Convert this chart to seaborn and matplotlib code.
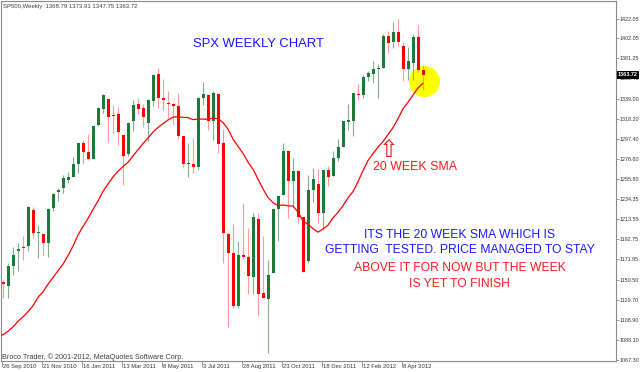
import numpy as np
import pandas as pd
import matplotlib
matplotlib.use("Agg")
import matplotlib.pyplot as plt
import matplotlib.transforms as mtransforms
from matplotlib.patches import Ellipse
import seaborn as sns

# ---------------- data (SP500 weekly) ----------------
symbol = "SP500,Weekly"
# 20 closes before the first visible week (needed for the 20-week SMA)
prior_close = [1135.68, 1087.69, 1089.41, 1064.88, 1091.60, 1117.51, 1076.76,
               1022.58, 1077.96, 1064.88, 1102.66, 1101.60, 1121.64, 1079.25,
               1071.69, 1064.59, 1104.51, 1109.55, 1125.59, 1148.67]

open_ = [1148.6, 1144.0, 1165.3, 1180.5, 1184.7, 1185.7, 1223.2, 1199.0, 1198.1, 1189.4,
         1225.0, 1242.5, 1245.8, 1254.7, 1257.6, 1270.8, 1293.2, 1283.3, 1276.5, 1311.9,
         1328.7, 1338.9, 1321.6, 1322.7, 1301.2, 1281.7, 1315.5, 1333.6, 1329.0, 1313.4,
         1337.1, 1365.2, 1340.2, 1334.8, 1333.1, 1331.1, 1300.3, 1271.3, 1271.5, 1268.4,
         1339.6, 1343.3, 1315.9, 1344.3, 1292.6, 1198.5, 1178.9, 1123.6, 1177.0, 1174.0,
         1153.5, 1214.0, 1136.9, 1131.2, 1158.2, 1224.5, 1238.7, 1285.0, 1253.2, 1263.9,
         1215.6, 1170.0, 1244.3, 1250.0, 1219.7, 1265.0, 1258.9, 1277.8, 1289.1, 1315.3,
         1316.2, 1344.3, 1343.1, 1361.2, 1365.2, 1369.6, 1370.8, 1404.2, 1397.7, 1408.5,
         1394.0, 1370.3, 1376.0, 1403.3, 1368.79]
high = [1150.0, 1167.7, 1184.4, 1189.4, 1196.1, 1227.1, 1226.8, 1207.4, 1198.7, 1225.6,
        1241.0, 1246.7, 1259.4, 1262.6, 1278.2, 1293.2, 1296.1, 1302.7, 1311.0, 1330.0,
        1344.1, 1338.9, 1332.3, 1330.9, 1301.2, 1314.8, 1337.9, 1339.5, 1333.2, 1339.0,
        1364.6, 1370.6, 1359.4, 1346.8, 1334.6, 1345.2, 1300.6, 1292.5, 1298.6, 1341.0,
        1356.5, 1344.0, 1347.0, 1344.3, 1307.4, 1199.4, 1208.5, 1190.7, 1230.7, 1204.4,
        1220.6, 1220.4, 1195.9, 1171.4, 1224.6, 1238.3, 1292.7, 1285.0, 1277.6, 1265.4,
        1215.6, 1260.1, 1267.1, 1266.0, 1265.4, 1269.4, 1285.0, 1296.8, 1315.5, 1333.5,
        1345.3, 1354.3, 1363.4, 1368.0, 1378.0, 1374.7, 1406.0, 1409.0, 1419.2, 1422.4,
        1398.0, 1392.8, 1406.6, 1415.3, 1373.91]
low = [1131.9, 1131.9, 1155.7, 1159.7, 1171.7, 1181.0, 1194.1, 1173.0, 1176.9, 1174.0,
       1222.0, 1232.8, 1241.5, 1251.5, 1257.6, 1262.2, 1271.3, 1275.1, 1276.3, 1311.0,
       1323.7, 1294.3, 1302.0, 1291.0, 1249.0, 1279.2, 1305.0, 1322.9, 1309.7, 1294.7,
       1331.0, 1329.2, 1327.0, 1318.5, 1311.8, 1297.0, 1268.0, 1258.1, 1262.0, 1265.0,
       1333.0, 1307.0, 1295.9, 1282.9, 1168.1, 1101.5, 1121.1, 1121.1, 1172.1, 1136.0,
       1136.2, 1114.2, 1131.4, 1074.8, 1158.2, 1191.5, 1238.7, 1215.4, 1226.6, 1208.5,
       1158.7, 1168.0, 1231.5, 1209.5, 1202.4, 1248.6, 1258.9, 1274.3, 1289.1, 1306.1,
       1300.5, 1337.5, 1340.0, 1357.7, 1354.9, 1340.0, 1370.8, 1386.9, 1391.6, 1394.2,
       1357.4, 1358.8, 1358.0, 1367.0, 1347.75]
close = [1146.2, 1165.2, 1176.2, 1183.1, 1183.3, 1225.9, 1199.2, 1199.7, 1189.4, 1224.7,
         1240.4, 1243.9, 1256.8, 1257.6, 1271.5, 1293.2, 1283.4, 1276.3, 1310.9, 1329.2,
         1343.0, 1319.9, 1321.2, 1304.3, 1279.2, 1313.8, 1332.4, 1328.2, 1319.7, 1337.4,
         1363.6, 1340.2, 1337.8, 1333.3, 1331.1, 1300.2, 1271.0, 1271.5, 1268.5, 1339.7,
         1343.8, 1316.1, 1345.0, 1292.3, 1199.4, 1178.8, 1123.5, 1176.8, 1174.0, 1154.2,
         1216.0, 1136.4, 1131.4, 1155.5, 1224.6, 1238.3, 1285.1, 1253.2, 1263.9, 1215.7,
         1158.7, 1244.3, 1255.2, 1219.7, 1265.3, 1257.6, 1277.8, 1289.1, 1315.4, 1316.3,
         1344.9, 1342.6, 1361.2, 1365.7, 1369.6, 1370.9, 1404.2, 1397.1, 1408.5, 1398.1,
         1370.3, 1378.5, 1403.4, 1369.1, 1363.72]

sma_period = 20
x_tick_labels = ["26 Sep 2010", "21 Nov 2010", "16 Jan 2011", "13 Mar 2011",
                 "8 May 2011", "3 Jul 2011", "28 Aug 2011", "23 Oct 2011",
                 "18 Dec 2011", "12 Feb 2012", "8 Apr 2012"]
y_tick_values = [1422.05, 1402.05, 1381.25, 1360.45, 1339.00, 1318.20, 1297.40,
                 1276.60, 1255.80, 1234.35, 1213.55, 1192.75, 1171.95, 1150.50,
                 1129.70, 1108.90, 1088.10, 1067.30]

title_text = "SPX WEEKLY CHART"
sma_text = "20 WEEK SMA"
note_lines = [("ITS THE 20 WEEK SMA WHICH IS", "#1a1aff"),
              ("GETTING  TESTED. PRICE MANAGED TO STAY", "#1a1aff"),
              ("ABOVE IT FOR NOW BUT THE WEEK", "#ff1a1a"),
              ("IS YET TO FINISH", "#ff1a1a")]
copyright_text = "Broco Trader, \u00a9 2001-2012, MetaQuotes Software Corp."

# ---------------- derived tables ----------------
n = len(close)
weeks = pd.date_range("2010-09-26", periods=n, freq="7D")
df = pd.DataFrame({"k": np.arange(n), "open": open_, "high": high,
                   "low": low, "close": close})
df["up"] = df["close"] >= df["open"]

all_close = pd.Series(prior_close + close)
sma = all_close.rolling(sma_period).mean()
sma_df = pd.DataFrame({"k": np.arange(-1, n),
                       "sma": sma.iloc[sma_period - 1:].to_numpy()})

tick_pos = [weeks.get_loc(pd.to_datetime(t)) for t in x_tick_labels]

# ---------------- figure ----------------
sns.set_theme(style="white")
plt.rcParams["font.family"] = ["Liberation Sans", "DejaVu Sans"]

W, H = 640, 372
fig = plt.figure(figsize=(W / 100, H / 100), dpi=100)
fig.patch.set_facecolor("white")
ax = fig.add_axes([1 / W, 1 - 361 / H, 615 / W, 360 / H])
ax.set_facecolor("white")

PX = 5.0        # pixels per week
PY = 1.04       # price per pixel
ax.set_xlim(-2 / PX, 613 / PX)
ax.set_ylim(1067.30 - 1 * PY, 1067.30 + 359 * PY)

GREEN, RED = "#1b7a3a", "#ff0000"
GREEN_W, RED_W = "#86ad90", "#ff9a9a"

# highlight circle behind the last candle
ax.add_patch(Ellipse((n - 1 + 0.3, 1356.9), width=31 / PX, height=31 * PY,
                     facecolor="#ffff00", edgecolor="none", zorder=1))

# wicks
for up, wc in [(True, GREEN_W), (False, RED_W)]:
    d = df[df["up"] == up]
    ax.vlines(d["k"], d["low"], d["high"], colors=wc, linewidth=0.8, zorder=2)
# bodies
body_bottom = np.minimum(df["open"], df["close"])
body_h = np.maximum(np.abs(df["close"] - df["open"]), 1.1)
ax.bar(df["k"], body_h, bottom=body_bottom, width=3 / PX,
       color=np.where(df["up"], GREEN, RED), linewidth=0, zorder=3)

# 20-week SMA
sns.lineplot(data=sma_df, x="k", y="sma", color="#ff0000", linewidth=0.9,
             ax=ax, zorder=4)
ax.set_xlabel("")
ax.set_ylabel("")

# frame
for s in ax.spines.values():
    s.set_color("#8a8a8a")
    s.set_linewidth(0.8)

# right price axis
ax.yaxis.tick_right()
ax.set_yticks(y_tick_values)
ax.set_yticklabels([f"{v:.2f}" for v in y_tick_values])
ax.tick_params(axis="y", which="both", right=True, left=False, length=2.0,
               width=0.6, color="#8a8a8a", pad=0.6, labelsize=3.9,
               labelcolor="#333333")

# bottom date axis
ax.set_xticks([p - 0.3 for p in tick_pos])
ax.tick_params(axis="x", bottom=True, length=4.0, width=0.6, color="#8a8a8a",
               labelbottom=False)
xt = ax.get_xaxis_transform()
for p, lab in zip(tick_pos, x_tick_labels):
    off = mtransforms.ScaledTranslation(0.4 / 100, -6.8 / 100, fig.dpi_scale_trans)
    ax.text(p, 0, lab, transform=xt + off, ha="left", va="baseline",
            fontsize=4.2, color="#333333", clip_on=False)

# current price box
bt = mtransforms.blended_transform_factory(ax.transAxes, ax.transData)
off = mtransforms.ScaledTranslation(2.0 / 100, 0, fig.dpi_scale_trans)
ax.text(1.0, close[-1], f"{close[-1]:.2f}", transform=bt + off, ha="left",
        va="center", fontsize=3.9, color="white", fontweight="bold",
        bbox=dict(boxstyle="square,pad=0.22", fc="black", ec="none"),
        zorder=10, clip_on=False)

# ---------------- texts ----------------
def fx(x):
    return x / W


def fy(y):
    return 1 - y / H


header = f"{symbol}  {open_[-1]:.2f} {high[-1]:.2f} {low[-1]:.2f} {close[-1]:.2f}"
fig.text(fx(3), fy(8.2), header, fontsize=4.3, color="#404040",
         ha="left", va="baseline")
fig.text(fx(2.5), fy(359), copyright_text, fontsize=5.2, color="#404040",
         ha="left", va="baseline")

fig.text(fx(258.5), fy(46.7), title_text, fontsize=9.4, color="#1414ff",
         ha="center", va="baseline")
fig.text(fx(415), fy(170.4), sma_text, fontsize=8.9, color="#ff1a1a",
         ha="center", va="baseline")
fig.text(fx(389), fy(150), "\u21e7", family=["DejaVu Sans"], fontsize=17,
         color="#ff1a1a", ha="center", va="center")

for (txt, col), yb in zip(note_lines, [238.3, 253.3, 271.3, 287.3]):
    fig.text(fx(459.5), fy(yb), txt, fontsize=8.7, color=col,
             ha="center", va="baseline")

fig.savefig("out.png", dpi=100, facecolor="white")
